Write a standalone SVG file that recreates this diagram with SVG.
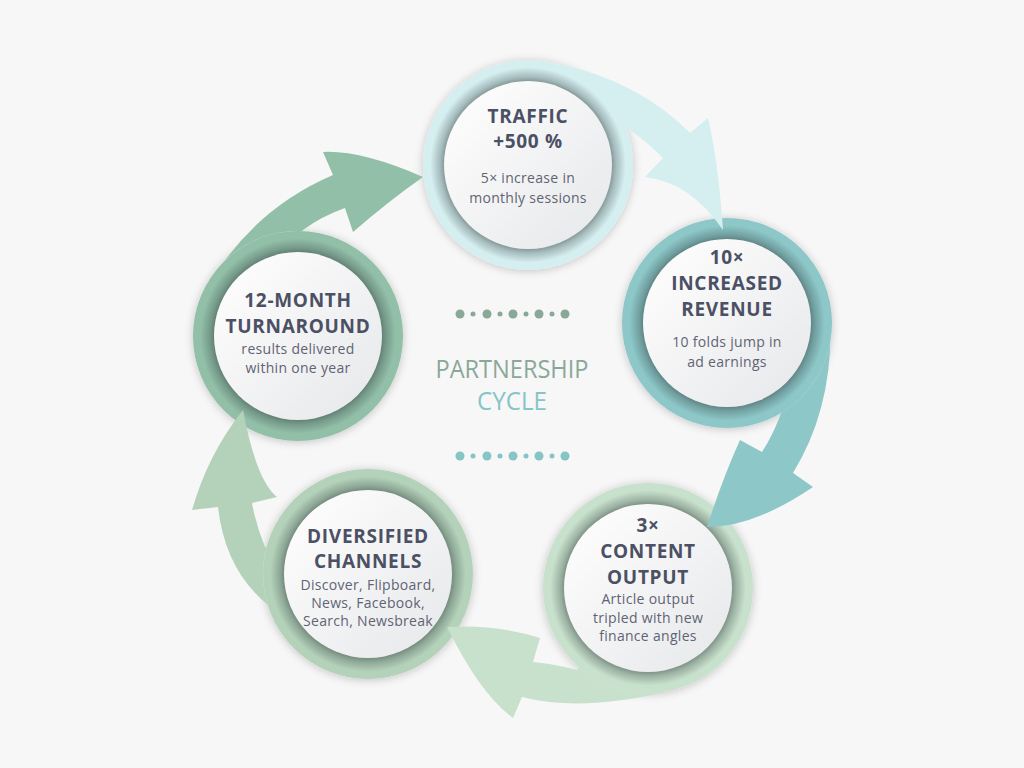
<svg xmlns="http://www.w3.org/2000/svg" width="1024" height="768" viewBox="0 0 1024 768">
<defs>
<style>
.title{font-family:"Open Sans","Liberation Sans",sans-serif;font-weight:700;font-size:19px;fill:#4b5064;text-anchor:middle;letter-spacing:0.7px}
.desc{font-family:"Open Sans","Liberation Sans",sans-serif;font-weight:400;font-size:14px;fill:#5f6474;text-anchor:middle;letter-spacing:0.3px}
.center{font-family:"Open Sans","Liberation Sans",sans-serif;font-weight:500;font-size:25px;text-anchor:middle}
.ring{filter:url(#sh)}
.bev{fill:url(#bev)}
.face{fill:url(#face)}
</style>
<filter id="sh" x="-20%" y="-20%" width="140%" height="140%"><feDropShadow dx="0" dy="1" stdDeviation="4" flood-color="#000" flood-opacity="0.22"/></filter>
<radialGradient id="bev" cx="0.5" cy="0.5" r="0.5"><stop offset="0.78" stop-color="#2d3b3b" stop-opacity="0.55"/><stop offset="0.84" stop-color="#2d3b3b" stop-opacity="0.28"/><stop offset="0.93" stop-color="#2d3b3b" stop-opacity="0"/></radialGradient>
<linearGradient id="face" x1="0" y1="0" x2="1" y2="1"><stop offset="0" stop-color="#ffffff"/><stop offset="1" stop-color="#e6e7e9"/></linearGradient>
<clipPath id="c1"><path clip-rule="evenodd" d="M0 0H1024V768H0Z M423 165a105 105 0 1 0 210 0a105 105 0 1 0 -210 0Z"/></clipPath>
<clipPath id="c2"><path clip-rule="evenodd" d="M0 0H1024V768H0Z M622 323a105 105 0 1 0 210 0a105 105 0 1 0 -210 0Z"/></clipPath>
<clipPath id="c3"><path clip-rule="evenodd" d="M0 0H1024V768H0Z M543 588a105 105 0 1 0 210 0a105 105 0 1 0 -210 0Z"/></clipPath>
<clipPath id="c4"><path clip-rule="evenodd" d="M0 0H1024V768H0Z M263 574a105 105 0 1 0 210 0a105 105 0 1 0 -210 0Z"/></clipPath>
<clipPath id="c5"><path clip-rule="evenodd" d="M0 0H1024V768H0Z M193 336a105 105 0 1 0 210 0a105 105 0 1 0 -210 0Z"/></clipPath>
</defs>
<rect width="1024" height="768" fill="#f7f7f7"/>

<g id="center">
<g fill="#8aa898"><circle cx="460" cy="314" r="4.5"/><circle cx="473" cy="314" r="2.5"/><circle cx="487" cy="314" r="4.5"/><circle cx="500" cy="314" r="2.5"/><circle cx="513" cy="314" r="4.5"/><circle cx="526" cy="314" r="2.5"/><circle cx="539" cy="314" r="4.5"/><circle cx="552" cy="314" r="2.5"/><circle cx="565" cy="314" r="4.5"/></g>
<text class="center" x="512" y="378" fill="#8aa898" textLength="153" lengthAdjust="spacingAndGlyphs">PARTNERSHIP</text>
<text class="center" x="512" y="410" fill="#86c4c6" textLength="70" lengthAdjust="spacingAndGlyphs">CYCLE</text>
<g fill="#86c4c6"><circle cx="460" cy="456" r="4.5"/><circle cx="473" cy="456" r="2.5"/><circle cx="487" cy="456" r="4.5"/><circle cx="500" cy="456" r="2.5"/><circle cx="513" cy="456" r="4.5"/><circle cx="526" cy="456" r="2.5"/><circle cx="539" cy="456" r="4.5"/><circle cx="552" cy="456" r="2.5"/><circle cx="565" cy="456" r="4.5"/></g>
</g>

<g id="node-traffic">
<circle class="ring" cx="528" cy="165" r="105" fill="#d5eef0"/>
<circle class="bev" cx="528" cy="165" r="105"/>
<circle class="face" cx="528" cy="165" r="84"/>
<text class="title" x="528" y="123">TRAFFIC</text>
<text class="title" x="528" y="148">+500 %</text>
<text class="desc" x="528" y="183">5× increase in</text>
<text class="desc" x="528" y="203">monthly sessions</text>
</g>

<g id="node-revenue">
<circle class="ring" cx="727" cy="323" r="105" fill="#8dc7c8"/>
<circle class="bev" cx="727" cy="323" r="105"/>
<circle class="face" cx="727" cy="323" r="84"/>
<text class="title" x="727" y="264">10×</text>
<text class="title" x="727" y="290">INCREASED</text>
<text class="title" x="727" y="316">REVENUE</text>
<text class="desc" x="727" y="347">10 folds jump in</text>
<text class="desc" x="727" y="367">ad earnings</text>
</g>

<g id="node-content">
<circle class="ring" cx="648" cy="588" r="105" fill="#c8e1cc"/>
<circle class="bev" cx="648" cy="588" r="105"/>
<circle class="face" cx="648" cy="588" r="84"/>
<text class="title" x="648" y="532">3×</text>
<text class="title" x="648" y="558">CONTENT</text>
<text class="title" x="648" y="584">OUTPUT</text>
<text class="desc" x="648" y="604">Article output</text>
<text class="desc" x="648" y="623">tripled with new</text>
<text class="desc" x="648" y="641">finance angles</text>
</g>

<g id="node-channels">
<circle class="ring" cx="368" cy="574" r="105" fill="#b4d2ba"/>
<circle class="bev" cx="368" cy="574" r="105"/>
<circle class="face" cx="368" cy="574" r="84"/>
<text class="title" x="368" y="543">DIVERSIFIED</text>
<text class="title" x="368" y="568">CHANNELS</text>
<text class="desc" x="368" y="590">Discover, Flipboard,</text>
<text class="desc" x="368" y="608">News, Facebook,</text>
<text class="desc" x="368" y="626">Search, Newsbreak</text>
</g>

<g id="node-turnaround">
<circle class="ring" cx="298" cy="336" r="105" fill="#92bfa8"/>
<circle class="bev" cx="298" cy="336" r="105"/>
<circle class="face" cx="298" cy="336" r="84"/>
<text class="title" x="298" y="307">12-MONTH</text>
<text class="title" x="298" y="333">TURNAROUND</text>
<text class="desc" x="298" y="354">results delivered</text>
<text class="desc" x="298" y="373">within one year</text>
</g>

<g id="connectors">
<path clip-path="url(#c1)" fill="#d5eef0" d="M540 90 L560 64 Q640 82 690 133 L708 118 Q718 160 723 230 Q690 182 645 177 L663 158 Q645 140 627 128 L590 105 Z"/>
<path clip-path="url(#c2)" fill="#8dc7c8" d="M780 300 L829 300 Q838 400 793 473 L813 487 Q754 527 707 527 Q722 480 740 440 L762 452 Q775 432 784 405 L760 380 Z"/>
<path clip-path="url(#c3)" fill="#c8e1cc" d="M600 650 L577 670 Q555 664 533 662 L540 638 Q495 624 447 627 Q480 694 513 718 L522 697 Q580 712 665 692 Z"/>
<path clip-path="url(#c4)" fill="#b4d2ba" d="M290 545 L265 547 Q256 525 252 503 L277 497 Q256 480 243 410 Q208 454 192 510 L218 507 Q225 570 268 605 Z"/>
<path clip-path="url(#c5)" fill="#92bfa8" d="M250 280 L196 310 Q240 215 333 175 L323 152 Q361 150 423 177 Q390 200 353 232 L345 208 Q322 216 303 230 Z"/>
</g>
</svg>
